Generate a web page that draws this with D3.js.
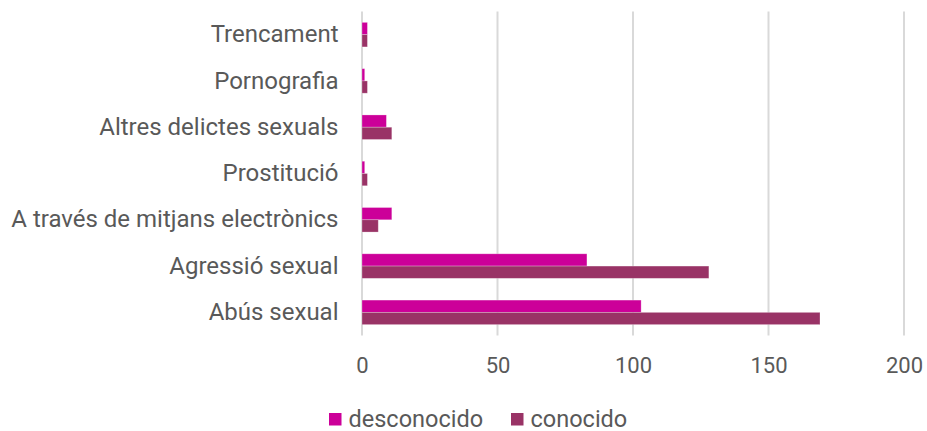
<!DOCTYPE html>
<html><head><meta charset="utf-8">
<script src="https://cdn.jsdelivr.net/npm/d3@7"></script>
<style>body{margin:0;background:#fff}svg{display:block}</style>
</head><body><svg id="c" width="927" height="431"></svg>
<script>
const categories = ["Trencament","Pornografia","Altres delictes sexuals","Prostitució","A través de mitjans electrònics","Agressió sexual","Abús sexual"];
const desconocido = [2,1,9,1,11,83,103];
const conocido = [2,2,11,2,6,128,169];
const seriesNames = ["desconocido","conocido"];
const colors = ["#CC0099","#993366"];
const ticks = [0,50,100,150,200];

const svg = d3.select("#c");
const m = {l:362, r:904, t:11.5, b:335.5};
const font = "Roboto, sans-serif";
const x = d3.scaleLinear().domain([0,200]).range([m.l,m.r]);
const y = d3.scaleBand().domain(categories).range([m.t,m.b]).paddingInner(0.47).paddingOuter(0.235);
const y2 = d3.scaleBand().domain(seriesNames).range([0,y.bandwidth()]);

// grid
svg.append("g").selectAll("line").data(ticks).join("line")
  .attr("x1",d=>x(d)).attr("x2",d=>x(d)).attr("y1",m.t).attr("y2",m.b)
  .attr("stroke","#d9d9d9").attr("stroke-width",2);

const data = [desconocido, conocido];
data.forEach((vals,si)=>{
  svg.append("g").selectAll("rect").data(vals).join("rect")
    .attr("x",x(0)).attr("y",(d,i)=>y(categories[i])+y2(seriesNames[si]))
    .attr("width",d=>x(d)-x(0)).attr("height",y2.bandwidth())
    .attr("fill",colors[si]).attr("stroke","#fff").attr("stroke-opacity",0.35).attr("stroke-width",0.75);
});

// x axis labels
const xa = svg.append("g").attr("transform",`translate(0,${m.b})`).call(d3.axisBottom(x).tickValues(ticks).tickSize(0).tickPadding(21.5));
xa.select(".domain").remove();
xa.selectAll("text").attr("font-family",font).attr("font-size",22).attr("fill","#595959");

// y labels
const ya = svg.append("g").attr("transform",`translate(${m.l},0)`).call(d3.axisLeft(y).tickSize(0).tickPadding(23.5));
ya.select(".domain").remove();
ya.selectAll("text").attr("font-family",font).attr("font-size",24).attr("fill","#595959");

// legend
const leg = [{x:329},{x:511}];
seriesNames.forEach((n,i)=>{
  svg.append("rect").attr("x",leg[i].x).attr("y",413).attr("width",12.5).attr("height",12.5).attr("fill",colors[i]);
  svg.append("text").attr("x",leg[i].x+19.5).attr("y",426.5).text(n)
    .attr("font-family",font).attr("font-size",23.5).attr("fill","#595959");
});
</script></body></html>
